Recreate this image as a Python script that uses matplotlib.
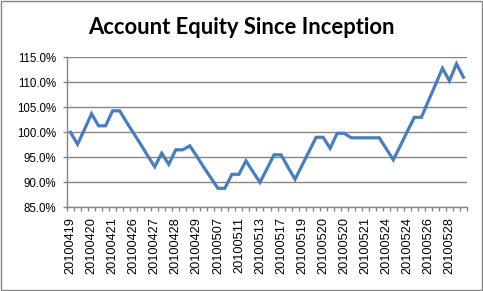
import numpy as np
import matplotlib
matplotlib.use("Agg")
import matplotlib.pyplot as plt
from matplotlib.ticker import PercentFormatter
from matplotlib.patches import Rectangle

# equity in percent of the starting balance, one value per trading record
equity = [100.0, 97.6, 100.6, 103.7, 101.3, 101.3, 104.3, 104.3, 102.0, 99.8,
          97.6, 95.3, 93.1, 95.8, 93.6, 96.5, 96.5, 97.3, 95.2, 93.0,
          90.9, 88.8, 88.8, 91.6, 91.6, 94.3, 92.1, 90.0, 92.7, 95.5,
          95.5, 93.0, 90.6, 93.4, 96.2, 99.0, 99.0, 96.8, 99.8, 99.8,
          98.9, 98.9, 98.9, 98.9, 98.9, 96.7, 94.5, 97.3, 100.2, 103.0,
          103.0, 106.3, 109.5, 112.8, 110.3, 113.7, 111.0]

# dates shown under every third point
date_labels = ["20100419", "20100420", "20100421", "20100426", "20100427",
               "20100428", "20100429", "20100507", "20100511", "20100513",
               "20100517", "20100519", "20100520", "20100520", "20100521",
               "20100524", "20100524", "20100526", "20100528"]
label_step = 3

grey = "#868686"
blue = "#4A7EBB"

fig = plt.figure(figsize=(4.83, 2.91), dpi=100)
ax = fig.add_axes([67 / 483, 1 - 207.3 / 291, 400 / 483, 150 / 291])

x = np.arange(len(equity))
ax.plot(x, equity, color=blue, lw=2.3, solid_joinstyle="miter", zorder=3)

ax.set_xlim(-0.5, len(equity) - 0.5)
ax.set_ylim(85, 115)
ax.set_yticks(np.arange(85, 115.1, 5))
ax.yaxis.set_major_formatter(PercentFormatter(decimals=1))
ax.grid(axis="y", color=grey, lw=1)
ax.set_axisbelow(True)

# category boundaries get the tick marks, the labels sit on every third point
ax.set_xticks(np.arange(-0.5, len(equity), 1), minor=True)
ax.set_xticks(np.arange(0, len(date_labels) * label_step, label_step))
ax.set_xticklabels(date_labels, rotation=90)
ax.tick_params(axis="x", which="major", length=0, pad=7)
ax.tick_params(axis="x", which="minor", length=3, color=grey, width=1)
ax.tick_params(axis="y", length=3, color=grey, width=1, pad=5)
for lab in ax.get_xticklabels():
    lab.set_fontfamily("Liberation Sans")
    lab.set_fontsize(9.2)
for lab in ax.get_yticklabels():
    lab.set_fontfamily("Liberation Sans")
    lab.set_fontsize(8.3)

for side in ["top", "right"]:
    ax.spines[side].set_visible(False)
for side in ["left", "bottom"]:
    ax.spines[side].set_color(grey)
    ax.spines[side].set_linewidth(1)

fig.text(0.5, 1 - 27 / 291, "Account Equity Since Inception", ha="center",
         va="center", fontsize=15.8, fontweight="bold", family="Lato")

# chart frame
fig.patches.append(Rectangle((0.002, 0.003), 0.995, 0.993, transform=fig.transFigure,
                             fill=False, ec=grey, lw=1))

fig.savefig("out.png", dpi=100)
